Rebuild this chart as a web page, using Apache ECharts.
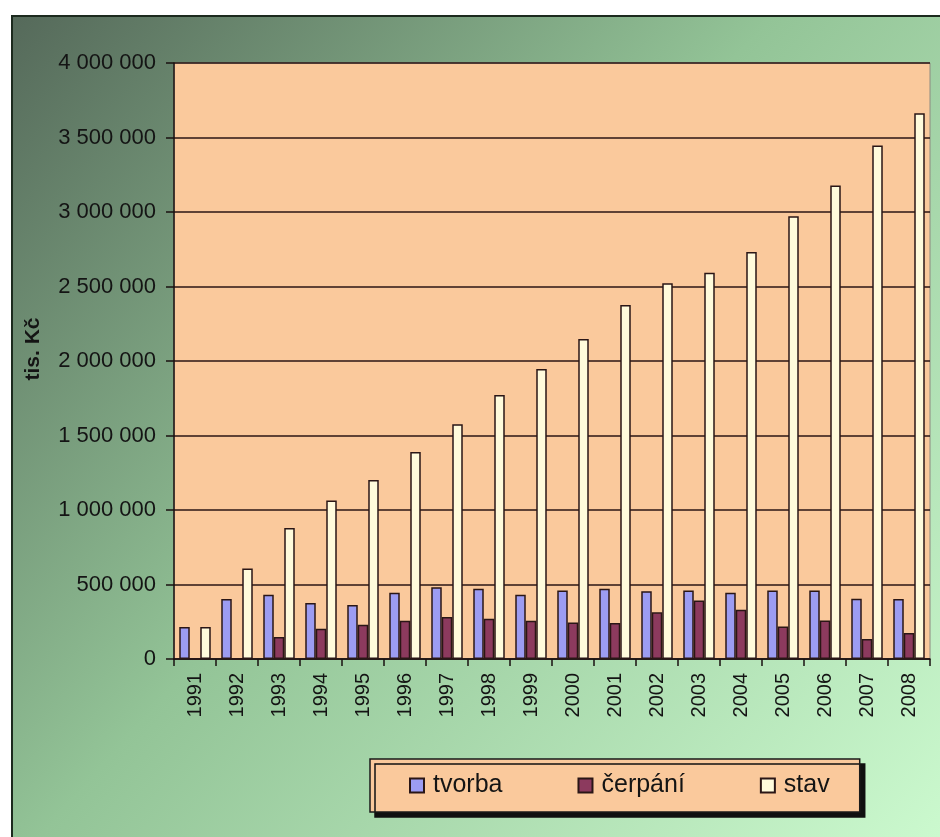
<!DOCTYPE html>
<html>
<head>
<meta charset="utf-8">
<title>tvorba, čerpání, stav</title>
<script src="https://cdn.jsdelivr.net/npm/echarts@6/dist/echarts.min.js"></script>
<style>
  html, body { margin: 0; padding: 0; background: #ffffff; }
  #chart { width: 940px; height: 837px; }
</style>
</head>
<body>
<div id="chart"></div>
<script>
// Years on the category axis
const years = ['1991','1992','1993','1994','1995','1996','1997','1998','1999',
               '2000','2001','2002','2003','2004','2005','2006','2007','2008'];

// Values in tis. Kč
const tvorba = [214000, 403000, 432000, 376000, 363000, 444000, 482000, 471000, 432000,
                459000, 471000, 455000, 459000, 444000, 459000, 459000, 405000, 403000];
const cerpani = [0, 0, 147000, 203000, 230000, 257000, 282000, 270000, 257000,
                 245000, 242000, 313000, 392000, 331000, 218000, 259000, 135000, 174000];
const stav = [214000, 608000, 880000, 1064000, 1201000, 1389000, 1575000, 1771000, 1946000,
              2147000, 2376000, 2521000, 2593000, 2732000, 2971000, 3178000, 3446000, 3662000];

// Value axis ticks
const yMin = 0, yMax = 4000000, yStep = 500000;

const seriesNames = ['tvorba', 'čerpání', 'stav'];
const seriesColors = ['#9c9cf2', '#8c3a5e', '#fffbdc'];
const yAxisTitle = 'tis. Kč';

function spaced(v) {
  return String(v).replace(/\B(?=(\d{3})+(?!\d))/g, ' ');
}

const chart = echarts.init(document.getElementById('chart'), null, { renderer: 'canvas' });

const barBase = {
  type: 'bar',
  barGap: '0%',
  barCategoryGap: '25%',
  itemStyle: { borderColor: '#2a1616', borderWidth: 1.5 }
};

const option = {
  animation: false,
  backgroundColor: '#ffffff',
  textStyle: { fontFamily: 'Liberation Sans, Arial, sans-serif', color: '#141414' },
  graphic: [{
    type: 'rect',
    z: -10,
    silent: true,
    shape: { x: 12, y: 16, width: 940, height: 840 },
    style: {
      fill: new echarts.graphic.LinearGradient(0, 0, 1, 1, [
        { offset: 0, color: '#55695a' },
        { offset: 0.45, color: '#93c497' },
        { offset: 1, color: '#cdfbd0' }
      ]),
      stroke: '#1c2a1e',
      lineWidth: 2
    }
  }, {
    // value axis title, rotated to read bottom-to-top
    type: 'text',
    silent: true,
    x: 33,
    y: 349,
    rotation: Math.PI / 2,
    style: {
      text: yAxisTitle,
      fontFamily: 'Liberation Sans, Arial, sans-serif',
      fontSize: 21,
      fontWeight: 'bold',
      fill: '#141414',
      align: 'center',
      verticalAlign: 'middle'
    }
  }],
  grid: {
    left: 174, top: 63, right: 10, bottom: 178,
    show: true,
    backgroundColor: '#fac99c',
    borderColor: '#8e8a80',
    borderWidth: 1,
    z: 0
  },
  legend: {
    data: seriesNames,
    left: 370,
    top: 759,
    orient: 'horizontal',
    icon: 'rect',
    itemWidth: 14,
    itemHeight: 14,
    itemGap: 75,
    padding: [14, 30, 14, 39],
    backgroundColor: '#fac99c',
    borderColor: '#1a1a1a',
    borderWidth: 1.5,
    shadowColor: '#101010',
    shadowBlur: 0,
    shadowOffsetX: 5,
    shadowOffsetY: 5,
    textStyle: { fontSize: 25, color: '#141414', padding: [0, 0, 0, 4] }
  },
  xAxis: {
    type: 'category',
    data: years,
    boundaryGap: true,
    axisLine: { show: true, lineStyle: { color: '#1a1010', width: 1.5 } },
    axisTick: { show: true, length: 7, interval: 0, lineStyle: { color: '#1a1010', width: 1.5 } },
    axisLabel: { rotate: 90, fontSize: 20, margin: 14, interval: 0, color: '#141414' },
    splitLine: { show: false }
  },
  yAxis: {
    type: 'value',
    min: yMin,
    max: yMax,
    interval: yStep,
    axisLine: { show: true, lineStyle: { color: '#1a1010', width: 1.5 } },
    axisTick: { show: true, length: 8, lineStyle: { color: '#1a1010', width: 1.5 } },
    axisLabel: { fontSize: 22, margin: 18, color: '#141414', formatter: spaced },
    splitLine: { show: true, lineStyle: { color: '#2a1414', width: 1.5 } }
  },
  series: [
    Object.assign({}, barBase, { name: seriesNames[0], data: tvorba, itemStyle: Object.assign({}, barBase.itemStyle, { color: seriesColors[0] }) }),
    Object.assign({}, barBase, { name: seriesNames[1], data: cerpani, itemStyle: Object.assign({}, barBase.itemStyle, { color: seriesColors[1] }) }),
    Object.assign({}, barBase, { name: seriesNames[2], data: stav, itemStyle: Object.assign({}, barBase.itemStyle, { color: seriesColors[2] }) })
  ]
};

chart.setOption(option);
</script>
</body>
</html>
